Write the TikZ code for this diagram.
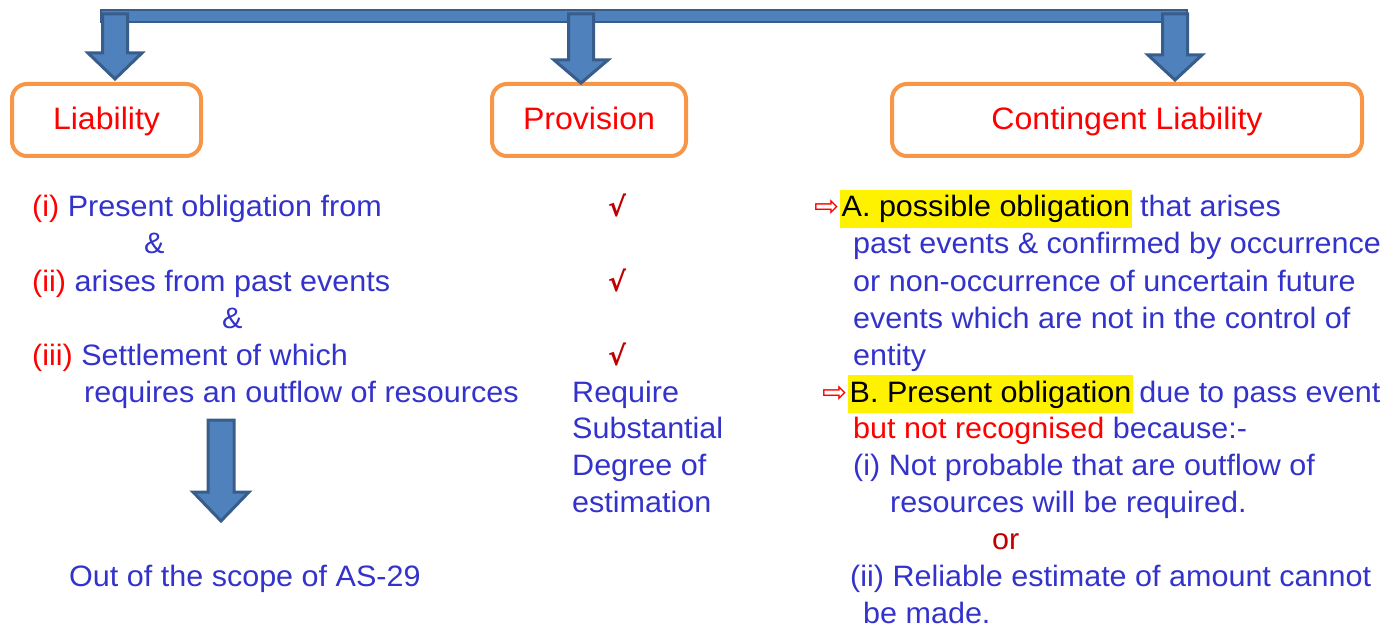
\documentclass[tikz,border=0pt]{standalone}
\usepackage{fontspec}
\setmainfont[FakeStretch=1.035]{Liberation Sans}
\newfontfamily\symfont{DejaVu Sans}
\definecolor{txtblue}{RGB}{51,51,204}
\definecolor{boxorange}{RGB}{247,150,70}
\definecolor{arrowfill}{RGB}{79,129,189}
\definecolor{arrowline}{RGB}{56,93,138}
\definecolor{darkred}{RGB}{192,0,0}
\newcommand\bodysize{\fontsize{29.5}{35}\selectfont}
\newcommand\titlesize{\fontsize{31}{37}\selectfont}
% downward block arrow: centre x, top y, head start y, tip y
\newcommand\blockdown[4]{%
  \draw[blockarrow] (#1-12.5,#2) -- (#1+12.5,#2) -- (#1+12.5,#3) -- (#1+27,#3)
    -- (#1,#4) -- (#1-27,#3) -- (#1-12.5,#3) -- cycle;}
\begin{document}
\begin{tikzpicture}[x=1pt,y=-1pt,
  titlebox/.style={draw=boxorange, line width=4pt, rounded corners=15pt,
    text=red, font=\titlesize, inner sep=0pt, minimum height=72pt,
    text height=24pt, text depth=4pt},
  body/.style={anchor=base west, inner sep=0pt, text=txtblue, font=\bodysize},
  hl/.style={body, fill=yellow, text=black, inner xsep=1.5pt, inner ysep=2pt,
    text height=25pt, text depth=9pt},
  blockarrow/.style={fill=arrowfill, draw=arrowline, line width=3pt, line join=miter},
  tick/.style={anchor=base, inner sep=0pt, text=darkred, font=\symfont\bfseries\fontsize{27}{30}\selectfont},
  pointer/.style={anchor=base east, inner sep=0pt, text=red, font=\symfont\fontsize{30}{32}\selectfont}
]
\useasboundingbox (0,0) rectangle (1394,628);

% headings
\node[titlebox, minimum width=189pt] (liab) at (106.5,120) {Liability};
\node[titlebox, minimum width=194pt] (prov) at (589,120) {Provision};
\node[titlebox, minimum width=470pt] (cont) at (1127,120) {Contingent Liability};

% connecting bar and the three heading arrows
\draw[blockarrow, line width=2.5pt] (101,10) rectangle (1187,22);
\blockdown{115}{14}{53}{79}
\blockdown{581}{14}{60}{83}
\blockdown{1175}{14}{55}{80}

% liability column
\node[body] (l1) at (32,217) {\textcolor{red}{(i)} Present obligation from};
\node[body] (l2) at (144,254) {\&};
\node[body] (l3) at (32,291) {\textcolor{red}{(ii)} arises from past events};
\node[body] (l4) at (222,328) {\&};
\node[body] (l5) at (32,365) {\textcolor{red}{(iii)} Settlement of which};
\node[body] (l6) at (84,402) {requires an outflow of resources};
\draw[blockarrow] (208,420) -- (234,420) -- (234,492) -- (249,492) -- (221,521)
  -- (193,492) -- (208,492) -- cycle;
\node[body] (l7) at (69,586) {Out of the scope of AS-29};

% provision column
\node[tick] (p1) at (617,217) {√};
\node[tick] (p2) at (617,291) {√};
\node[tick] (p3) at (617,365) {√};
\node[body] (p4) at (572,402) {Require};
\node[body] (p5) at (572,438) {Substantial};
\node[body] (p6) at (572,475) {Degree of};
\node[body] (p7) at (572,512) {estimation};

% contingent liability column
\node[hl] (ca) at (840,217) {A. possible obligation};
\node[pointer] (cap) at (ca.base west) {⇨};
\node[body] (ca2) at ([xshift=8pt]ca.base east) {that arises};
\node[body] (c2) at (853,254) {past events \& confirmed by occurrence};
\node[body] (c3) at (853,291) {or non-occurrence of uncertain future};
\node[body] (c4) at (853,328) {events which are not in the control of};
\node[body] (c5) at (853,365) {entity};
\node[hl] (cb) at (848,402) {B. Present obligation};
\node[pointer] (cbp) at (cb.base west) {⇨};
\node[body] (cb2) at ([xshift=6pt]cb.base east) {due to pass event};
\node[body] (c7) at (853,438) {\textcolor{red}{but not recognised} because:-};
\node[body] (c8) at (853,475) {(i) Not probable that are outflow of};
\node[body] (c9) at (890,512) {resources will be required.};
\node[body, text=darkred] (c10) at (992,549) {or};
\node[body] (c11) at (850,586) {(ii) Reliable estimate of amount cannot};
\node[body] (c12) at (863,623) {be made.};
\end{tikzpicture}
\end{document}
